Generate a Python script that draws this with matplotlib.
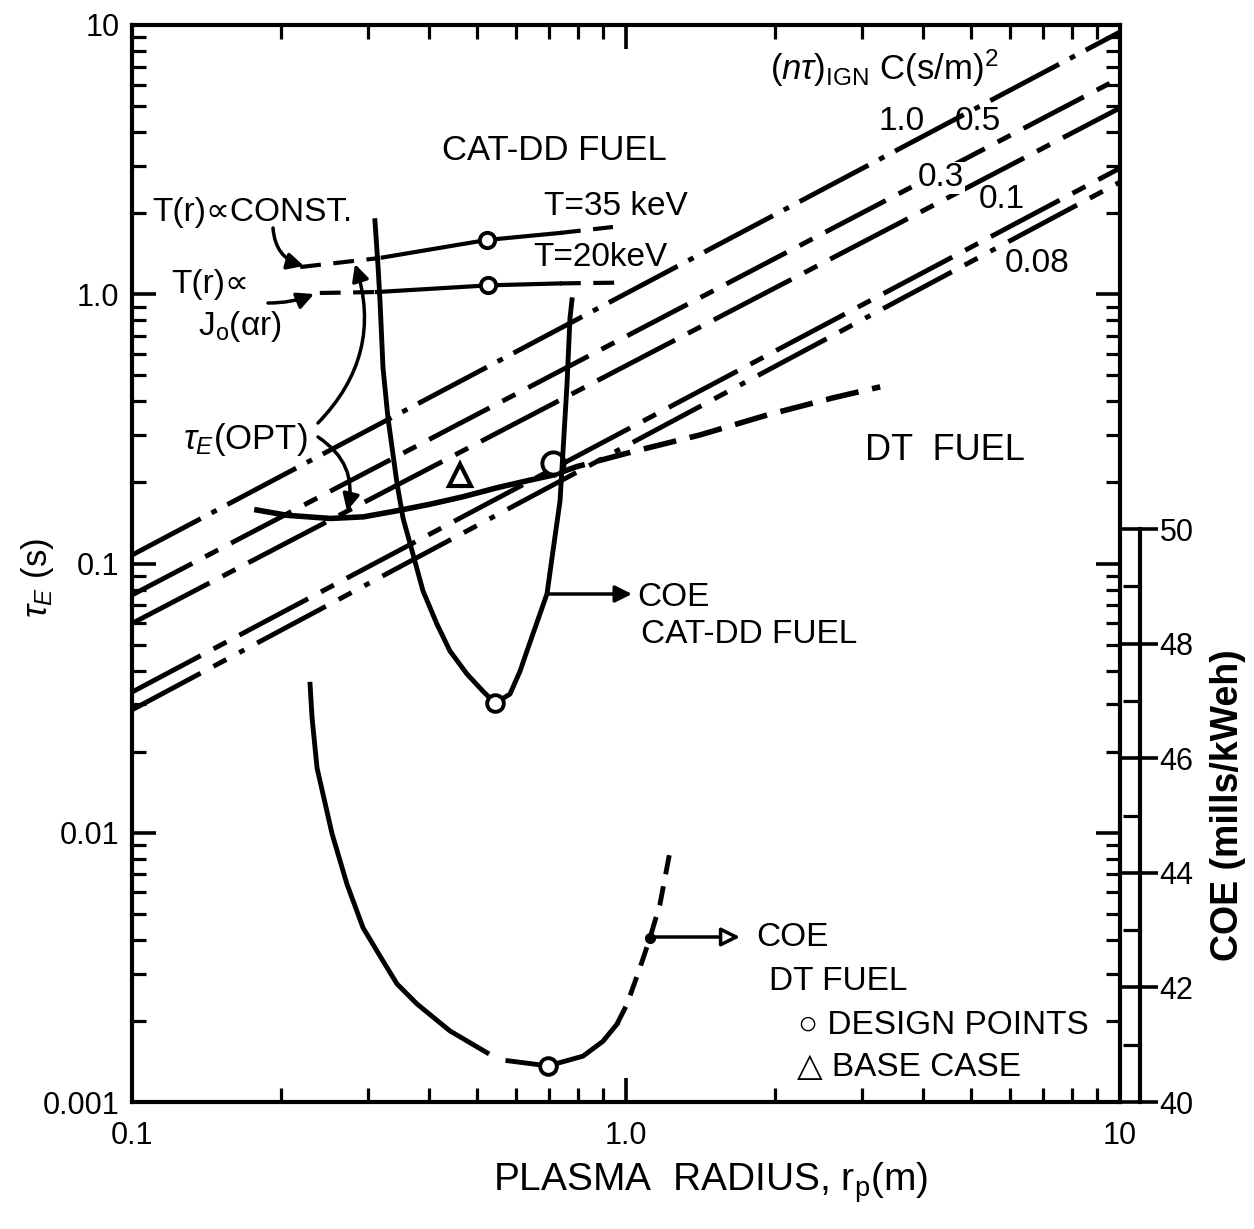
import matplotlib
matplotlib.use('Agg')
import matplotlib.pyplot as plt
from matplotlib.ticker import FixedLocator, FixedFormatter, LogLocator, NullFormatter

plt.rcParams['font.family'] = ['Liberation Sans', 'DejaVu Sans']
plt.rcParams['mathtext.fontset'] = 'custom'
plt.rcParams['mathtext.rm'] = 'Liberation Sans'
plt.rcParams['mathtext.it'] = 'Liberation Sans:italic'
plt.rcParams['mathtext.bf'] = 'Liberation Sans:bold'

# ---------------- data ----------------
# ignition lines (n tau)_IGN C (s/m)^2 : tau_E at r_p = 0.1 m and r_p = 10 m
ign_labels = ['1.0', '0.5', '0.3', '0.1', '0.08']
ign_r = [0.1, 10.0]
ign_tau_lo = [0.1075, 0.0764, 0.0599, 0.0333, 0.0286]
ign_tau_hi = [9.42, 6.36, 4.92, 2.94, 2.61]

# DT fuel tau_E(OPT) curve (solid) and its dashed extension
dt_opt_r = [0.179, 0.206, 0.252, 0.294, 0.344, 0.401, 0.468, 0.547, 0.639, 0.712]
dt_opt_tau = [0.158, 0.151, 0.147, 0.149, 0.157, 0.166, 0.177, 0.191, 0.204, 0.213]
dt_ext_r = [0.712, 0.795, 1.03, 1.41, 1.93, 2.62, 3.27]
dt_ext_tau = [0.213, 0.229, 0.260, 0.300, 0.356, 0.412, 0.453]

# CAT-DD tau_E(OPT): T = 35 keV (T(r) ~ const) and T = 20 keV (T(r) ~ J0(ar))
cat35_r = [0.219, 0.318, 0.322, 0.523, 0.735, 0.941]
cat35_tau = [1.262, 1.364, 1.370, 1.591, 1.689, 1.778]
cat20_r = [0.240, 0.313, 0.526, 0.735, 0.986]
cat20_tau = [1.011, 1.019, 1.079, 1.097, 1.105]

# COE curves (right axis, mills/kWeh)
catcoe_r = [0.3103, 0.3150, 0.3177, 0.3222, 0.3297, 0.344, 0.3537, 0.3689, 0.3882,
            0.4143, 0.4402, 0.4765, 0.5133, 0.5431, 0.5824, 0.6103, 0.6302, 0.692, 0.7116,
            0.7353, 0.7456, 0.7596, 0.7702, 0.7775]
catcoe = [55.38, 54.55, 53.98, 52.81, 51.94, 50.79, 50.19, 49.62, 48.92,
          48.34, 47.87, 47.47, 47.17, 46.96, 47.12, 47.52, 47.87, 48.87, 49.62,
          50.49, 51.36, 52.53, 53.68, 54.0]
dtcoe_a_r = [0.2293, 0.2315, 0.2369, 0.2541, 0.2724, 0.2936, 0.3222, 0.344, 0.3776, 0.4402, 0.5232]
dtcoe_a = [47.29, 46.70, 45.83, 44.68, 43.80, 43.04, 42.46, 42.06, 41.71, 41.24, 40.86]
dtcoe_b_r = [0.5768, 0.6953, 0.8184, 0.8982, 0.959]
dtcoe_b = [40.72, 40.63, 40.80, 41.06, 41.36]
dtcoe_c_r = [0.959, 1.005, 1.067, 1.118, 1.172, 1.228]
dtcoe_c = [41.36, 41.71, 42.34, 42.86, 43.46, 44.38]

# design points and base case
dp_main_r = [0.5232, 0.5256]
dp_main_tau = [1.591, 1.082]
dp_dt_r = [0.7116]
dp_dt_tau = [0.2362]
dp_coe_r = [0.5431, 0.6953]
dp_coe = [46.96, 40.63]
base_r = [0.4613]
base_tau = [0.2132]
coe_dot_r = [1.118]
coe_dot = [42.86]

yticks = [0.001, 0.01, 0.1, 1.0, 10]
ytick_labels = ['0.001', '0.01', '0.1', '1.0', '10']
xticks = [0.1, 1.0, 10]
xtick_labels = ['0.1', '1.0', '10']
coe_ticks = [40, 42, 44, 46, 48, 50]
coe_minor = [41, 43, 45, 47, 49]

# ---------------- figure ----------------
W, H = 1254, 1229
fig = plt.figure(figsize=(W / 100, H / 100), dpi=100)
ax = fig.add_axes([132 / W, 1 - 1102 / H, (1120 - 132) / W, (1102 - 25) / H])
ax.set_xscale('log')
ax.set_yscale('log')
ax.set_xlim(0.1, 10)
ax.set_ylim(0.001, 10)

ax2 = ax.twinx()
ax2.set_ylim(40, 40 + (1102 - 25) / 57.3)
ax2.set_xlim(0.1, 10)

K = 'black'
LW = 3.5

styles = [(0, (16, 2.5, 1.2, 2.5)), (0, (14, 3, 3, 3)), (0, (18, 3, 3, 3)),
          (0, (16, 3, 3, 3)), (0, (16, 3, 3, 3, 1.2, 3))]
for lo, hi, st in zip(ign_tau_lo, ign_tau_hi, styles):
    ax.plot(ign_r, [lo, hi], color=K, lw=LW, ls=st, solid_capstyle='butt')

# DT tau_E(OPT)
ax.plot(dt_opt_r, dt_opt_tau, color=K, lw=4)
ax.plot(dt_ext_r, dt_ext_tau, color=K, lw=4, ls=(0, (6, 2.5)))

# CAT-DD tau_E(OPT) lines
ax.plot(cat35_r[0:2], cat35_tau[0:2], color=K, lw=3, ls=(0, (5, 3)))
ax.plot(cat35_r[2:5], cat35_tau[2:5], color=K, lw=3)
ax.plot(cat35_r[4:6], cat35_tau[4:6], color=K, lw=3, ls=(0, (5, 3)))
ax.plot(cat20_r[0:2], cat20_tau[0:2], color=K, lw=3, ls=(0, (5, 3)))
ax.plot(cat20_r[1:4], cat20_tau[1:4], color=K, lw=3)
ax.plot(cat20_r[3:5], cat20_tau[3:5], color=K, lw=3, ls=(0, (5, 3)))

# COE curves
ax2.plot(catcoe_r, catcoe, color=K, lw=3.5, solid_joinstyle='round')
ax2.plot(dtcoe_a_r, dtcoe_a, color=K, lw=3.5, solid_joinstyle='round')
ax2.plot(dtcoe_b_r, dtcoe_b, color=K, lw=3.5, solid_joinstyle='round')
ax2.plot(dtcoe_c_r, dtcoe_c, color=K, lw=3.5, ls=(0, (4, 2.5)))

# markers
mk = dict(ls='none', marker='o', mfc='white', mec=K, mew=2.8, zorder=5)
ax.plot(dp_main_r, dp_main_tau, ms=11, **mk)
ax.plot(dp_dt_r, dp_dt_tau, ms=16, **mk)
ax2.plot(dp_coe_r, dp_coe, ms=12, **mk)
ax.plot(base_r, base_tau, ls='none', marker='^', ms=16, mfc='none', mec=K, mew=3, zorder=5)
ax2.plot(coe_dot_r, coe_dot, ls='none', marker='o', ms=7, color=K, zorder=6)

# ---------------- axes styling ----------------
for s in ['left', 'right', 'top', 'bottom']:
    ax.spines[s].set_linewidth(3)
for s in ['left', 'top', 'bottom']:
    ax2.spines[s].set_visible(False)
ax2.spines['right'].set_position(('outward', 14.5))
ax2.spines['right'].set_bounds(40, 50)
ax2.spines['right'].set_linewidth(3)

ax.xaxis.set_major_locator(FixedLocator(xticks))
ax.xaxis.set_major_formatter(FixedFormatter(xtick_labels))
ax.xaxis.set_minor_locator(LogLocator(base=10, subs=range(2, 10)))
ax.xaxis.set_minor_formatter(NullFormatter())
ax.yaxis.set_major_locator(FixedLocator(yticks))
ax.yaxis.set_major_formatter(FixedFormatter(ytick_labels))
ax.yaxis.set_minor_locator(LogLocator(base=10, subs=range(2, 10)))
ax.yaxis.set_minor_formatter(NullFormatter())
ax.tick_params(which='major', direction='in', length=17, width=2.6, top=True, right=True,
               labelsize=22, pad=9)
ax.tick_params(which='minor', direction='in', length=10, width=2.3, top=True, right=True)
ax.tick_params(axis='x', which='major', pad=14)

ax2.yaxis.set_major_locator(FixedLocator(coe_ticks))
ax2.yaxis.set_minor_locator(FixedLocator(coe_minor))
ax2.yaxis.set_minor_formatter(NullFormatter())
ax2.tick_params(which='major', direction='inout', length=26, width=2.6, labelsize=22, pad=1)
ax2.tick_params(which='minor', direction='in', length=12, width=2.3)

# ---------------- text ----------------
def ptext(px, py, s, **kw):
    kw.setdefault('ha', 'center')
    kw.setdefault('va', 'center')
    kw.setdefault('fontsize', 24)
    fig.text(px / W, 1 - py / H, s, **kw)

ptext(38, 578, r'$\tau_E$ (s)', rotation=90, fontsize=25)
ptext(711, 1183, r'PLASMA  RADIUS, r$_{\rm p}$(m)', fontsize=28)
ptext(1228, 805, 'COE (mills/kWeh)', rotation=90, fontsize=27, fontweight='bold')

ptext(770, 80, r'$(n\tau)_{\rm IGN}$ C(s/m)$^2$', ha='left', va='baseline', fontsize=25)
ptext(902, 122, ign_labels[0])
ptext(978, 122, ign_labels[1])
ptext(941, 178, ign_labels[2], bbox=dict(fc='white', ec='none', pad=0.5))
ptext(1002, 199, ign_labels[3])
ptext(1037, 263, ign_labels[4])

ptext(554, 150, 'CAT-DD FUEL', fontsize=25)
ptext(616, 206, 'T=35 keV', fontsize=24)
ptext(600, 258, 'T=20keV', fontsize=24)
ptext(252, 212, 'T(r)\u221dCONST.', fontsize=24)
ptext(210, 285, 'T(r)\u221d', fontsize=24)
ptext(240, 327, 'J$_{\\rm o}$(\u03b1r)', fontsize=24)
ptext(245, 440, r'$\tau_E$(OPT)', fontsize=25)
ptext(945, 451, 'DT  FUEL', fontsize=26)
ptext(637, 598, 'COE', fontsize=24, ha='left')
ptext(749, 634, 'CAT-DD FUEL', fontsize=24)
ptext(792, 937, 'COE', fontsize=24)
ptext(838, 981, 'DT FUEL', fontsize=24)
ptext(943, 1025, '\u25cb DESIGN POINTS', fontsize=24)
ptext(909, 1067, '\u25b3 BASE CASE', fontsize=24)

# ---------------- arrows ----------------
def parrow(p0, p1, rad=0.0, style='-|>', fc=K, ms=25):
    ax.annotate('', xy=(p1[0], H - p1[1]), xycoords='figure pixels',
                xytext=(p0[0], H - p0[1]), textcoords='figure pixels',
                arrowprops=dict(arrowstyle=style, connectionstyle=f'arc3,rad={rad}',
                                lw=2.5, color=K, fc=fc, mutation_scale=ms,
                                shrinkA=0, shrinkB=0))

parrow((273, 228), (304, 266), rad=0.35)
parrow((268, 303), (314, 294), rad=0.1)
parrow((318, 423), (355, 264), rad=0.3)
parrow((318, 437), (347, 511), rad=-0.35)
parrow((548, 594), (632, 594))
ax.annotate('', xy=(740, H - 937), xycoords='figure pixels',
            xytext=(648, H - 937), textcoords='figure pixels',
            arrowprops=dict(arrowstyle='-|>', lw=2.5, color=K, fc='white',
                            mutation_scale=28, shrinkA=0, shrinkB=0))

fig.savefig('out.png', dpi=100)
